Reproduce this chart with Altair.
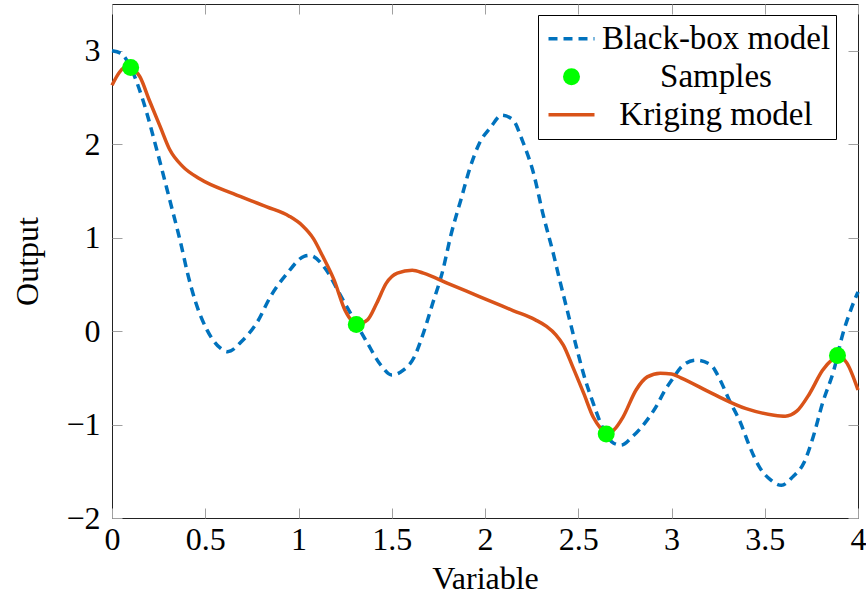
import altair as alt
import pandas as pd

SERIES = ["Black-box model", "Samples", "Kriging model"]
COLORS = ["#0072BD", "#00FF00", "#D95319"]

bb_x = [0.00, 0.05, 0.10, 0.166, 0.24, 0.31, 0.365, 0.41, 0.45, 0.51, 0.58, 0.62, 0.70, 0.78,
        0.85, 0.94, 1.03, 1.06, 1.15, 1.22, 1.29, 1.37, 1.44, 1.50, 1.56, 1.62, 1.67, 1.72,
        1.77, 1.82, 1.87, 1.92, 1.97, 2.03, 2.09, 2.15, 2.20, 2.26, 2.31, 2.37, 2.40, 2.45,
        2.49, 2.53, 2.58, 2.63, 2.69, 2.73, 2.79, 2.87, 2.92, 2.96, 3.01, 3.05, 3.13, 3.21,
        3.26, 3.31, 3.37, 3.42, 3.47, 3.53, 3.59, 3.65, 3.71, 3.76, 3.81, 3.87, 3.92, 3.96, 4.00]
bb_y = [3.00, 2.97, 2.82, 2.47, 1.94, 1.40, 0.97, 0.58, 0.30, 0.01, -0.18, -0.22, -0.10, 0.10,
        0.37, 0.62, 0.80, 0.81, 0.65, 0.40, 0.15, -0.13, -0.36, -0.47, -0.42, -0.28, -0.02, 0.30,
        0.62, 1.05, 1.40, 1.75, 2.01, 2.18, 2.31, 2.26, 2.04, 1.69, 1.26, 0.80, 0.55, 0.15,
        -0.17, -0.47, -0.77, -1.03, -1.20, -1.22, -1.13, -0.95, -0.80, -0.65, -0.50, -0.39, -0.31, -0.36,
        -0.52, -0.74, -0.98, -1.24, -1.45, -1.59, -1.65, -1.56, -1.41, -1.13, -0.77, -0.42, -0.02, 0.22, 0.42]

kr_x = [0.00, 0.04, 0.08, 0.10, 0.15, 0.20, 0.26, 0.31, 0.38, 0.47, 0.65, 0.83, 0.95, 1.02,
        1.08, 1.13, 1.19, 1.25, 1.29, 1.31, 1.37, 1.42, 1.47, 1.53, 1.61, 1.67, 1.80, 1.97,
        2.15, 2.27, 2.33, 2.38, 2.42, 2.47, 2.53, 2.58, 2.62, 2.65, 2.69, 2.74, 2.81, 2.87, 2.94,
        3.00, 3.05, 3.22, 3.40, 3.55, 3.61, 3.67, 3.74, 3.81, 3.87, 3.89, 3.94, 4.00]
kr_y = [2.63, 2.77, 2.83, 2.82, 2.72, 2.47, 2.18, 1.94, 1.76, 1.63, 1.47, 1.33, 1.23, 1.13,
        0.99, 0.80, 0.55, 0.22, 0.10, 0.07, 0.12, 0.30, 0.51, 0.62, 0.65, 0.62, 0.51, 0.37,
        0.22, 0.12, 0.05, -0.04, -0.15, -0.38, -0.67, -0.92, -1.04, -1.10, -1.06, -0.92, -0.63, -0.49, -0.45,
        -0.46, -0.50, -0.67, -0.83, -0.90, -0.91, -0.86, -0.67, -0.42, -0.29, -0.26, -0.34, -0.63]

s_x = [0.10, 1.31, 2.65, 3.89]
s_y = [2.82, 0.07, -1.10, -0.26]

x_ticks = [0, 0.5, 1, 1.5, 2, 2.5, 3, 3.5, 4]
y_ticks = [-2, -1, 0, 1, 2, 3]

bb = pd.DataFrame({"x": bb_x, "y": bb_y, "series": SERIES[0]})
kr = pd.DataFrame({"x": kr_x, "y": kr_y, "series": SERIES[2]})
sm = pd.DataFrame({"x": s_x, "y": s_y, "series": SERIES[1]})

FONT = "Liberation Serif, DejaVu Serif, serif"
FS = 32
color_scale = alt.Scale(domain=SERIES, range=COLORS)
xs = alt.Scale(domain=[0, 4], nice=False, zero=False)
ys = alt.Scale(domain=[-2, 3.5], nice=False, zero=False)

tick = dict(tickSize=10, tickColor="#a0a0a0", tickWidth=1, offset=-10, domain=False, grid=False)
lab = dict(labelFont=FONT, labelFontSize=FS, labelColor="black", labelFlush=False,
           labelOverlap=False, format="~g", titleFont=FONT, titleFontSize=FS,
           titleFontWeight="normal", titleColor="black")

x_main = alt.Axis(orient="bottom", values=x_ticks, title="Variable", labelPadding=6,
                  titlePadding=8, **lab, **tick)
y_main = alt.Axis(orient="left", values=y_ticks, title="Output", labelPadding=12,
                  titlePadding=21, **lab, **tick)
x_top = alt.Axis(orient="top", values=x_ticks, labels=False, title=None, **tick)
y_right = alt.Axis(orient="right", values=y_ticks, labels=False, title=None, **tick)

is_s = "datum.value === 'Samples'"
legend = alt.Legend(
    title=None, orient="none", legendX=426, legendY=11, direction="vertical", columns=1,
    symbolType={"expr": f"{is_s} ? 'circle' : 'stroke'"},
    symbolSize={"expr": f"{is_s} ? 289 : 2116"},
    symbolStrokeWidth={"expr": f"{is_s} ? 0 : 3.5"},
    symbolFillColor={"expr": f"{is_s} ? '#00FF00' : 'transparent'"},
    symbolDash={"expr": "datum.value === 'Black-box model' ? [9, 6] : [1, 0]"},
    symbolOffset=12, symbolOpacity=1,
    labelFont=FONT, labelFontSize=33, labelColor="black", labelAlign="center",
    labelBaseline="middle", labelOffset=128, labelLimit=500,
    padding=5, clipHeight=37.5, rowPadding=0,
    strokeColor="black", fillColor="white", cornerRadius=0,
)

blue = alt.Chart(bb).mark_line(strokeWidth=3.5, strokeDash=[9, 6], interpolate="monotone").encode(
    x=alt.X("x:Q", scale=xs, axis=x_main),
    y=alt.Y("y:Q", scale=ys, axis=y_main),
    color=alt.Color("series:N", scale=color_scale, legend=legend),
    order=alt.Order("x:Q"),
)
orange = alt.Chart(kr).mark_line(strokeWidth=3.5, interpolate="monotone").encode(
    x=alt.X("x:Q", scale=xs, axis=x_top),
    y=alt.Y("y:Q", scale=ys, axis=y_right),
    color=alt.Color("series:N", scale=color_scale, legend=None),
    order=alt.Order("x:Q"),
)
pts = alt.Chart(sm).mark_circle(size=289, opacity=1).encode(
    x=alt.X("x:Q", scale=xs, axis=None),
    y=alt.Y("y:Q", scale=ys, axis=None),
    color=alt.Color("series:N", scale=color_scale, legend=None),
)

chart = alt.layer(blue, orange, pts).resolve_axis(x="independent", y="independent").properties(
    width=746, height=514,
    padding={"left": 112, "top": 4, "right": 8, "bottom": 83},
    autosize=alt.AutoSizeParams(type="none"),
    background="white",
).configure_view(stroke="#222222", strokeWidth=1)

chart.save("out.html", embed_options={"renderer": "svg", "actions": False})
